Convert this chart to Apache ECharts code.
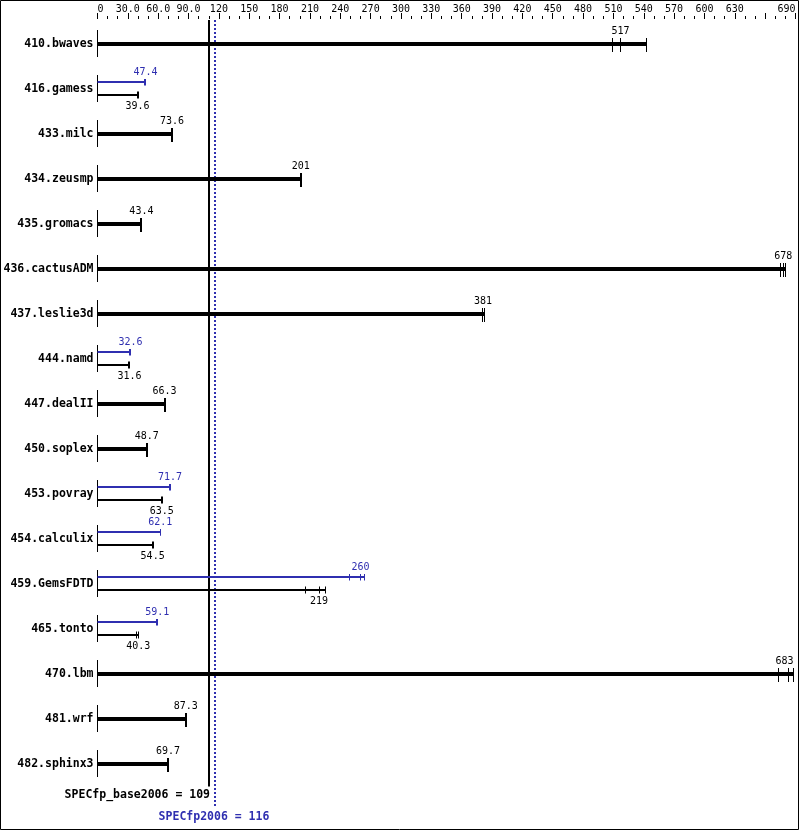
<!DOCTYPE html>
<html>
<head>
<meta charset="utf-8">
<script src="https://cdn.jsdelivr.net/npm/echarts@6/dist/echarts.min.js"></script>
<style>
html,body{margin:0;padding:0;background:#fff;}
#chart{width:799px;height:831px;}
</style>
</head>
<body>
<div id="chart"></div>
<script>
// ---- data ----
const benchmarks = ['410.bwaves','416.gamess','433.milc','434.zeusmp','435.gromacs','436.cactusADM','437.leslie3d','444.namd','447.dealII','450.soplex','453.povray','454.calculix','459.GemsFDTD','465.tonto','470.lbm','481.wrf','482.sphinx3'];
const baseRatio = [517, 39.6, 73.6, 201, 43.4, 678, 381, 31.6, 66.3, 48.7, 63.5, 54.5, 219, 40.3, 683, 87.3, 69.7];
const baseRuns = [[509,517,543],[39.6],[73.6],[201],[43.4],[675,678,680],[381,383],[31.6],[66.3],[48.7],[63.5],[54.5],[206,219,225],[39.0,40.3],[673,683,688],[87.3],[69.7]];
const peakRatio = [null, 47.4, null, null, null, null, null, 32.6, null, null, 71.7, 62.1, 260, 59.1, null, null, null];
const peakRuns = [null,[47.4],null,null,null,null,null,[32.6],null,null,[71.7],[62.1,62.6],[249,260,264],[59.1],null,null,null];
const baseMean = 109;
const peakMean = 116;
const baseMeanLabel = 'SPECfp_base2006 = 109';
const peakMeanLabel = 'SPECfp2006 = 116';
const tickLabels = ['0','30.0','60.0','90.0','120','150','180','210','240','270','300','330','360','390','420','450','480','510','540','570','600','630','','690'];

// ---- style ----
const BLUE = '#2f2fb0';
const MONO = '"DejaVu Sans Mono", "Liberation Mono", monospace';

function fmt(v){ return String(v); }

function renderRow(params, api){
  const i = api.value(0);
  const cs = params.coordSys;
  const gridRight = cs.x + cs.width;
  const p0 = api.coord([0, i]);
  const x0 = p0[0], cy = Math.round(p0[1]);
  const ch = [];
  ch.push({type:'line', shape:{x1:x0, y1:cy-14, x2:x0, y2:cy+13}, style:{stroke:'#000', lineWidth:1}});
  const X = v => api.coord([v, i])[0];
  function labelX(v, w){ return Math.min(X(v), gridRight - w); }
  function tickW(runs){ return runs.length > 1 ? 1 : 2; }
  function tickX(v, w){ const x = X(v); return w === 1 ? Math.floor(x) + 0.5 : Math.round(x); }
  if (peakRuns[i]) {
    // peak (blue, above)
    const yb = cy - 7;
    const pmax = Math.max.apply(null, peakRuns[i]);
    const tw = tickW(peakRuns[i]);
    ch.push({type:'line', shape:{x1:x0, y1:yb, x2:X(pmax), y2:yb}, style:{stroke:BLUE, lineWidth:2}});
    peakRuns[i].forEach(v => { const tx = tickX(v, tw); ch.push({type:'line', shape:{x1:tx, y1:yb-3, x2:tx, y2:yb+3.5}, style:{stroke:BLUE, lineWidth:tw}}); });
    ch.push({type:'text', style:{text:fmt(peakRatio[i]), x:labelX(peakRatio[i], 11), y:cy-16.5, align:'center', verticalAlign:'middle', font:'10px '+MONO, fill:BLUE}});
    // base (black, below)
    const yk = cy + 6;
    const bmax = Math.max.apply(null, baseRuns[i]);
    const tk = tickW(baseRuns[i]);
    ch.push({type:'line', shape:{x1:x0, y1:yk, x2:X(bmax), y2:yk}, style:{stroke:'#000', lineWidth:2}});
    baseRuns[i].forEach(v => { const tx = tickX(v, tk); ch.push({type:'line', shape:{x1:tx, y1:yk-3.5, x2:tx, y2:yk+3.5}, style:{stroke:'#000', lineWidth:tk}}); });
    ch.push({type:'text', style:{text:fmt(baseRatio[i]), x:labelX(baseRatio[i], 11), y:cy+17, align:'center', verticalAlign:'middle', font:'10px '+MONO, fill:'#000'}});
  } else {
    const bmax = Math.max.apply(null, baseRuns[i]);
    const tk = tickW(baseRuns[i]);
    ch.push({type:'line', shape:{x1:x0, y1:cy, x2:X(bmax), y2:cy}, style:{stroke:'#000', lineWidth:4}});
    baseRuns[i].forEach(v => { const tx = tickX(v, tk); ch.push({type:'line', shape:{x1:tx, y1:cy-6, x2:tx, y2:cy+8}, style:{stroke:'#000', lineWidth:tk}}); });
    ch.push({type:'text', style:{text:fmt(baseRatio[i]), x:labelX(baseRatio[i], 11), y:cy-12.5, align:'center', verticalAlign:'middle', font:'10px '+MONO, fill:'#000'}});
  }
  return {type:'group', children:ch};
}

function renderMeans(params, api){
  const cs = params.coordSys;
  const xb = Math.round(api.coord([baseMean, 0])[0]) + 1;
  const xp = Math.round(api.coord([peakMean, 0])[0]);
  const top = cs.y - 1.5;
  const bottom = cs.y + cs.height;
  return {type:'group', children:[
    {type:'line', shape:{x1:xb, y1:top, x2:xb, y2:bottom}, style:{stroke:'#000', lineWidth:2}},
    {type:'line', shape:{x1:xp, y1:top, x2:xp, y2:bottom+21}, style:{stroke:BLUE, lineWidth:2, lineDash:[2,2]}},
    {type:'text', style:{text:baseMeanLabel, x:xb+1, y:bottom+9, align:'right', verticalAlign:'middle', font:'bold 11.5px '+MONO, fill:'#000'}},
    {type:'text', style:{text:peakMeanLabel, x:xp-1, y:bottom+31, align:'center', verticalAlign:'middle', font:'bold 11.5px '+MONO, fill:BLUE}}
  ]};
}

const chart = echarts.init(document.getElementById('chart'), null, {renderer:'canvas'});
chart.setOption({
  animation:false,
  backgroundColor:'#fff',
  grid:{left:97.5, top:21.5, width:698, height:765, containLabel:false},
  xAxis:{
    type:'value', position:'top', min:0, max:690, interval:30, offset:2.5,
    axisLine:{show:false},
    axisTick:{show:true, length:6, lineStyle:{color:'#000', width:1}},
    minorTick:{show:true, splitNumber:3, length:3, lineStyle:{color:'#000', width:1}},
    splitLine:{show:false},
    axisLabel:{
      show:true, margin:5, color:'#000', fontFamily:MONO, fontSize:10,
      alignMinLabel:'left', alignMaxLabel:'right', hideOverlap:false,
      formatter: v => { const k = Math.round(v/30); return tickLabels[k] !== undefined ? tickLabels[k] : ''; }
    }
  },
  yAxis:{
    type:'category', data:benchmarks, inverse:true,
    axisLine:{show:false}, axisTick:{show:false}, splitLine:{show:false},
    axisLabel:{margin:4, color:'#000', fontFamily:MONO, fontWeight:'bold', fontSize:11.5, align:'right'}
  },
  graphic:[{type:'rect', shape:{x:0.5, y:0.5, width:798, height:829}, style:{fill:'none', stroke:'#000', lineWidth:1}, z:100}],
  series:[
    {type:'custom', clip:false, renderItem:renderMeans, data:[[0]], z:1},
    {type:'custom', clip:false, renderItem:renderRow, data:benchmarks.map((b,i)=>[i]), z:2}
  ]
});
</script>
</body>
</html>
